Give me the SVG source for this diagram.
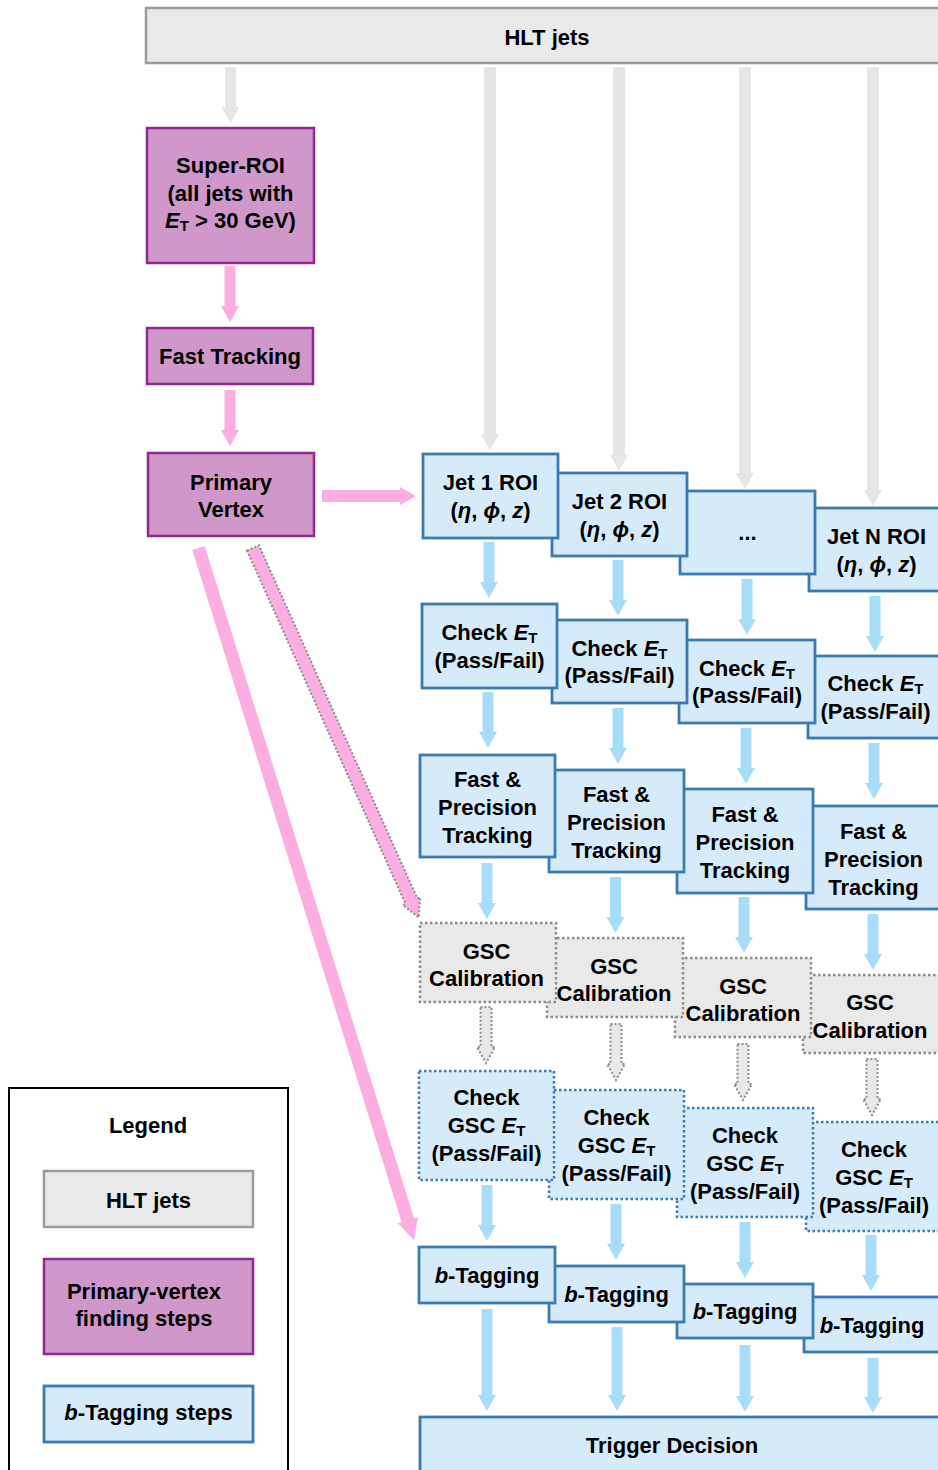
<svg xmlns="http://www.w3.org/2000/svg" xmlns:xlink="http://www.w3.org/1999/xlink" width="938" height="1470" viewBox="0 0 938 1470">
<style>
.t{font-family:"Liberation Sans",Arial,Helvetica,sans-serif;font-weight:bold;font-size:22px;fill:#000;text-anchor:middle}
.it{font-style:italic}
.sub{font-size:15px}
.blue{fill:#d6ebfa;stroke:#3b7bb1;stroke-width:2.8}
.bluedot{fill:#d6ebfa;stroke:#3b7bb1;stroke-width:2.5;stroke-dasharray:2.5 2.5}
.gsc{fill:#e9e9e9;stroke:#8c8c8c;stroke-width:2.5;stroke-dasharray:2.5 2.5}
.hlt{fill:#e9e9e9;stroke:#9b9b9b;stroke-width:2.5}
.pv{fill:#cf97ca;stroke:#92278f;stroke-width:2.5}
.leg{fill:#fff;stroke:#000;stroke-width:2}
.ab{fill:#a8ddf9}
.ag{fill:#e6e6e6}
.ap{fill:#fcaee0}
.ad{fill:#e9e9e9;stroke:#8c8c8c;stroke-width:2;stroke-dasharray:2 2}
.apd{fill:#fcaee0;stroke:#8c8c8c;stroke-width:2;stroke-dasharray:2 2}
</style>
<defs>
<path id="a56" d="M-5.5,0 H5.5 V40 H9 L0,56 L-9,40 H-5.5 Z"/>
</defs>

<g id="connectors">
<!-- gray from HLT jets -->
<use href="#a56" class="ag" x="230.5" y="67"/>
<path class="ag" d="M484,67 H496 V434 H499 L490,450 L481,434 H484 Z"/>
<path class="ag" d="M613,67 H625 V455 H628 L619,471 L610,455 H613 Z"/>
<path class="ag" d="M739,67 H751 V473 H754 L745,489 L736,473 H739 Z"/>
<path class="ag" d="M867,67 H879 V490 H882 L873,506 L864,490 H867 Z"/>
<!-- pink primary vertex steps -->
<use href="#a56" class="ap" x="230" y="266"/>
<use href="#a56" class="ap" x="230" y="390"/>
<path class="ap" d="M322,490 H400 V487 L416,496 L400,505 V502 H322 Z"/>
<path class="apd" transform="translate(253,548) rotate(-24.16)" d="M-6.5,0 H6.5 V387 H9.5 L0,405 L-9.5,387 H-6.5 Z"/>
<path class="ap" transform="translate(198.5,548) rotate(-17.3)" d="M-6.5,0 H6.5 V704 H10.5 L0,725 L-10.5,704 H-6.5 Z"/>
<!-- ROI -> Check ET -->
<use href="#a56" class="ab" x="489" y="542"/>
<use href="#a56" class="ab" x="618" y="560"/>
<use href="#a56" class="ab" x="747" y="579"/>
<use href="#a56" class="ab" x="875" y="596"/>
<!-- Check ET -> Tracking -->
<use href="#a56" class="ab" x="488" y="692"/>
<use href="#a56" class="ab" x="618" y="708"/>
<use href="#a56" class="ab" x="746" y="728"/>
<use href="#a56" class="ab" x="874" y="743"/>
<!-- Tracking -> GSC -->
<use href="#a56" class="ab" x="487" y="863"/>
<use href="#a56" class="ab" x="615.5" y="877"/>
<use href="#a56" class="ab" x="744" y="897"/>
<use href="#a56" class="ab" x="873" y="914"/>
<!-- GSC -> Check GSC (dotted) -->
<use href="#a56" class="ad" x="486" y="1007"/>
<use href="#a56" class="ad" x="616" y="1024"/>
<use href="#a56" class="ad" x="743" y="1044"/>
<use href="#a56" class="ad" x="872" y="1059"/>
<!-- Check GSC -> b-Tagging -->
<use href="#a56" class="ab" x="487" y="1185"/>
<use href="#a56" class="ab" x="616" y="1204"/>
<use href="#a56" class="ab" x="745" y="1222"/>
<use href="#a56" class="ab" x="871" y="1235"/>
<!-- b-Tagging -> Trigger Decision -->
<path class="ab" d="M481.5,1309 H492.5 V1395 H496 L487,1411 L478,1395 H481.5 Z"/>
<path class="ab" d="M611.5,1327 H622.5 V1395 H626 L617,1411 L608,1395 H611.5 Z"/>
<path class="ab" d="M739.5,1345 H750.5 V1396 H754 L745,1412 L736,1396 H739.5 Z"/>
<path class="ab" d="M867.5,1358 H878.5 V1397 H882 L873,1413 L864,1397 H867.5 Z"/>
</g>

<g id="hlt-jets">
<rect class="hlt" x="146" y="8" width="800" height="55"/>
<text class="t" x="547" y="45">HLT jets</text>
</g>
<g id="super-roi">
<rect class="pv" x="147" y="128" width="167" height="135"/>
<text class="t" x="230.5" y="173">Super-ROI</text>
<text class="t" x="230.5" y="201">(all jets with</text>
<text class="t" x="230.5" y="228"><tspan class="it">E</tspan><tspan class="sub" dy="3">T</tspan><tspan dy="-3"> &gt; 30 GeV)</tspan></text>
</g>
<g id="fast-tracking">
<rect class="pv" x="147" y="328" width="166" height="56"/>
<text class="t" x="230" y="364">Fast Tracking</text>
</g>
<g id="primary-vertex">
<rect class="pv" x="148" y="453" width="166" height="83"/>
<text class="t" x="231" y="490">Primary</text>
<text class="t" x="231" y="517">Vertex</text>
</g>

<!-- ROI row -->
<g id="jetN-roi">
<rect class="blue" x="809" y="508" width="140" height="83"/>
<text class="t" x="876.5" y="544">Jet N ROI</text>
<text class="t" x="876.5" y="572">(<tspan class="it">η</tspan>, <tspan class="it">ϕ</tspan>, <tspan class="it">z</tspan>)</text>
</g>
<g id="jetdots-roi">
<rect class="blue" x="680" y="491" width="135" height="83"/>
<text class="t" x="747.5" y="540">...</text>
</g>
<g id="jet2-roi">
<rect class="blue" x="552" y="473" width="135" height="83"/>
<text class="t" x="619.5" y="509">Jet 2 ROI</text>
<text class="t" x="619.5" y="537">(<tspan class="it">η</tspan>, <tspan class="it">ϕ</tspan>, <tspan class="it">z</tspan>)</text>
</g>
<g id="jet1-roi">
<rect class="blue" x="423" y="454" width="135" height="84"/>
<text class="t" x="490.5" y="490">Jet 1 ROI</text>
<text class="t" x="490.5" y="518">(<tspan class="it">η</tspan>, <tspan class="it">ϕ</tspan>, <tspan class="it">z</tspan>)</text>
</g>

<!-- Check ET row -->
<g id="check-et-4">
<rect class="blue" x="808" y="656" width="140" height="82"/>
<text class="t" x="875.5" y="691">Check <tspan class="it">E</tspan><tspan class="sub" dy="3">T</tspan></text>
<text class="t" x="875.5" y="718.5">(Pass/Fail)</text>
</g>
<g id="check-et-3">
<rect class="blue" x="679" y="640" width="136" height="83"/>
<text class="t" x="747" y="675.5">Check <tspan class="it">E</tspan><tspan class="sub" dy="3">T</tspan></text>
<text class="t" x="747" y="703">(Pass/Fail)</text>
</g>
<g id="check-et-2">
<rect class="blue" x="552" y="620" width="135" height="83"/>
<text class="t" x="619.5" y="655.5">Check <tspan class="it">E</tspan><tspan class="sub" dy="3">T</tspan></text>
<text class="t" x="619.5" y="683">(Pass/Fail)</text>
</g>
<g id="check-et-1">
<rect class="blue" x="422" y="604" width="135" height="84"/>
<text class="t" x="489.5" y="640">Check <tspan class="it">E</tspan><tspan class="sub" dy="3">T</tspan></text>
<text class="t" x="489.5" y="667.5">(Pass/Fail)</text>
</g>

<!-- Tracking row -->
<g id="tracking-4">
<rect class="blue" x="806" y="806" width="140" height="103"/>
<text class="t" x="873.5" y="838.5">Fast &amp;</text>
<text class="t" x="873.5" y="866.5">Precision</text>
<text class="t" x="873.5" y="894.5">Tracking</text>
</g>
<g id="tracking-3">
<rect class="blue" x="677" y="789" width="136" height="104"/>
<text class="t" x="745" y="822">Fast &amp;</text>
<text class="t" x="745" y="850">Precision</text>
<text class="t" x="745" y="878">Tracking</text>
</g>
<g id="tracking-2">
<rect class="blue" x="549" y="770" width="135" height="102"/>
<text class="t" x="616.5" y="802">Fast &amp;</text>
<text class="t" x="616.5" y="830">Precision</text>
<text class="t" x="616.5" y="858">Tracking</text>
</g>
<g id="tracking-1">
<rect class="blue" x="420" y="755" width="135" height="102"/>
<text class="t" x="487.5" y="787">Fast &amp;</text>
<text class="t" x="487.5" y="815">Precision</text>
<text class="t" x="487.5" y="843">Tracking</text>
</g>

<!-- GSC row -->
<g id="gsc-4">
<rect class="gsc" x="803" y="975" width="140" height="78"/>
<text class="t" x="870" y="1010">GSC</text>
<text class="t" x="870" y="1037.5">Calibration</text>
</g>
<g id="gsc-3">
<rect class="gsc" x="675" y="958" width="136" height="79"/>
<text class="t" x="743" y="993.5">GSC</text>
<text class="t" x="743" y="1021">Calibration</text>
</g>
<g id="gsc-2">
<rect class="gsc" x="547" y="938" width="136" height="79"/>
<text class="t" x="614" y="973.5">GSC</text>
<text class="t" x="614" y="1001">Calibration</text>
</g>
<g id="gsc-1">
<rect class="gsc" x="420" y="923" width="136" height="79"/>
<text class="t" x="486.5" y="958.5">GSC</text>
<text class="t" x="486.5" y="986">Calibration</text>
</g>

<!-- Check GSC row -->
<g id="check-gsc-4">
<rect class="bluedot" x="806" y="1122" width="140" height="109"/>
<text class="t" x="874" y="1156.5">Check</text>
<text class="t" x="874" y="1184.5">GSC <tspan class="it">E</tspan><tspan class="sub" dy="3">T</tspan></text>
<text class="t" x="874" y="1212.5">(Pass/Fail)</text>
</g>
<g id="check-gsc-3">
<rect class="bluedot" x="677" y="1108" width="136" height="109"/>
<text class="t" x="745" y="1142.5">Check</text>
<text class="t" x="745" y="1170.5">GSC <tspan class="it">E</tspan><tspan class="sub" dy="3">T</tspan></text>
<text class="t" x="745" y="1198.5">(Pass/Fail)</text>
</g>
<g id="check-gsc-2">
<rect class="bluedot" x="549" y="1090" width="135" height="109"/>
<text class="t" x="616.5" y="1124.5">Check</text>
<text class="t" x="616.5" y="1152.5">GSC <tspan class="it">E</tspan><tspan class="sub" dy="3">T</tspan></text>
<text class="t" x="616.5" y="1180.5">(Pass/Fail)</text>
</g>
<g id="check-gsc-1">
<rect class="bluedot" x="419" y="1071" width="135" height="109"/>
<text class="t" x="486.5" y="1105">Check</text>
<text class="t" x="486.5" y="1133">GSC <tspan class="it">E</tspan><tspan class="sub" dy="3">T</tspan></text>
<text class="t" x="486.5" y="1161">(Pass/Fail)</text>
</g>

<!-- b-Tagging row -->
<g id="btag-4">
<rect class="blue" x="804" y="1297" width="142" height="55"/>
<text class="t" x="872" y="1332.5"><tspan class="it">b</tspan>-Tagging</text>
</g>
<g id="btag-3">
<rect class="blue" x="677" y="1284" width="136" height="54"/>
<text class="t" x="745" y="1319"><tspan class="it">b</tspan>-Tagging</text>
</g>
<g id="btag-2">
<rect class="blue" x="549" y="1266" width="135" height="56"/>
<text class="t" x="616.5" y="1302"><tspan class="it">b</tspan>-Tagging</text>
</g>
<g id="btag-1">
<rect class="blue" x="419" y="1247" width="136" height="56"/>
<text class="t" x="487" y="1283"><tspan class="it">b</tspan>-Tagging</text>
</g>

<g id="trigger-decision">
<rect class="blue" x="420" y="1417" width="530" height="70"/>
<text class="t" x="672" y="1453">Trigger Decision</text>
</g>

<g id="legend">
<rect class="leg" x="9" y="1088" width="279" height="400"/>
<text class="t" x="148" y="1133">Legend</text>
<rect class="hlt" x="44" y="1171" width="209" height="56"/>
<text class="t" x="148.5" y="1208">HLT jets</text>
<rect class="pv" x="44" y="1259" width="209" height="95"/>
<text class="t" x="144" y="1299">Primary-vertex</text>
<text class="t" x="144" y="1326">finding steps</text>
<rect class="blue" x="44" y="1386" width="209" height="56"/>
<text class="t" x="148.5" y="1420"><tspan class="it">b</tspan>-Tagging steps</text>
</g>
</svg>
